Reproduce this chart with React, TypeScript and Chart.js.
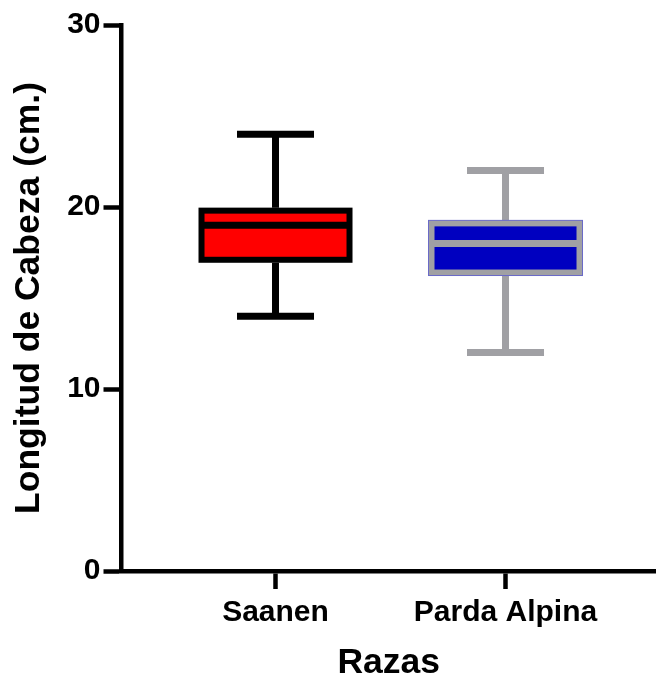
import React, { useEffect, useRef } from "react";
import { Chart, registerables } from "chart.js";

Chart.register(...registerables);

const categories = ["Saanen", "Parda Alpina"];
const minValues = [14, 12];
const q1Values = [17.1, 16.4];
const medianValues = [19, 18];
const q3Values = [19.8, 19.1];
const maxValues = [24, 22];
const fillColors = ["#FF0000", "#0000C0"];
const lineColors = ["#000000", "#A0A0A4"];
const yTicks = [0, 10, 20, 30];

const boxPlugin = {
  id: "boxWhiskers",
  afterDatasetsDraw(chart: any) {
    const { ctx, scales } = chart;
    const xs = scales.x;
    const ys = scales.y;
    const boxW = 148;
    const capW = 77;
    ctx.save();
    ctx.lineCap = "butt";
    categories.forEach((_, i) => {
      const cx = xs.getPixelForValue(i + 1);
      const yQ1 = ys.getPixelForValue(q1Values[i]);
      const yQ3 = ys.getPixelForValue(q3Values[i]);
      const yMed = ys.getPixelForValue(medianValues[i]);
      const yMin = ys.getPixelForValue(minValues[i]);
      const yMax = ys.getPixelForValue(maxValues[i]);
      ctx.strokeStyle = lineColors[i];
      // whiskers
      ctx.lineWidth = 7;
      ctx.beginPath();
      ctx.moveTo(cx, yQ3 - 3);
      ctx.lineTo(cx, yMax);
      ctx.moveTo(cx, yQ1 + 3);
      ctx.lineTo(cx, yMin);
      ctx.stroke();
      ctx.beginPath();
      ctx.moveTo(cx - capW / 2, yMax);
      ctx.lineTo(cx + capW / 2, yMax);
      ctx.moveTo(cx - capW / 2, yMin);
      ctx.lineTo(cx + capW / 2, yMin);
      ctx.stroke();
      // box border
      ctx.lineWidth = 6;
      ctx.strokeRect(cx - boxW / 2, yQ3, boxW, yQ1 - yQ3);
      if (i === 1) {
        ctx.lineWidth = 1;
        ctx.strokeStyle = "#6A6AC8";
        ctx.strokeRect(cx - boxW / 2 - 3, yQ3 - 3, boxW + 6, yQ1 - yQ3 + 6);
        ctx.strokeStyle = lineColors[i];
      }
      // median
      ctx.lineWidth = 7;
      ctx.beginPath();
      ctx.moveTo(cx - boxW / 2, yMed);
      ctx.lineTo(cx + boxW / 2, yMed);
      ctx.stroke();
    });
    ctx.restore();
  },
};

export default function App() {
  const ref = useRef<HTMLCanvasElement>(null);
  useEffect(() => {
    if (!ref.current) return;
    const tickFont = { family: "'Liberation Sans', Arial, sans-serif", size: 30, weight: "bold" as const };
    const titleFont = { family: "'Liberation Sans', Arial, sans-serif", size: 35.5, weight: "bold" as const };
    const chart = new Chart(ref.current, {
      type: "bar",
      data: {
        datasets: [
          {
            data: categories.map((_, i) => ({ x: i + 1, y: [q1Values[i], q3Values[i]] })) as any,
            backgroundColor: fillColors,
            borderWidth: 0,
            barThickness: 148,
          },
        ],
      },
      options: {
        responsive: false,
        animation: false,
        layout: { padding: { top: 25, left: 0, right: 0, bottom: 0 } },
        plugins: { legend: { display: false }, tooltip: { enabled: false } },
        scales: {
          x: {
            type: "linear",
            offset: false,
            min: 0.3304,
            max: 2.6543,
            afterBuildTicks: (s: any) => {
              s.ticks = categories.map((_, i) => ({ value: i + 1 }));
            },
            afterFit: (s: any) => {
              s.height = 106;
            },
            grid: {
              display: true,
              offset: false,
              drawOnChartArea: false,
              drawTicks: true,
              tickLength: 18,
              tickWidth: 4.5,
              tickColor: "#000",
            },
            border: { display: true, width: 4.5, color: "#000" },
            ticks: {
              color: "#000",
              font: tickFont,
              padding: 6,
              maxRotation: 0,
              autoSkip: false,
              callback: (v: any) => categories[Math.round(Number(v)) - 1],
            },
            title: {
              display: true,
              text: "Razas",
              color: "#000",
              font: titleFont,
              padding: { top: 0, bottom: -8 },
            },
          },
          y: {
            type: "linear",
            min: 0,
            max: 30,
            afterBuildTicks: (s: any) => {
              s.ticks = yTicks.map((v) => ({ value: v }));
            },
            afterFit: (s: any) => {
              s.width = 121.5;
            },
            grid: {
              display: true,
              drawOnChartArea: false,
              drawTicks: true,
              tickLength: 18,
              tickWidth: 4.5,
              tickColor: "#000",
            },
            border: { display: true, width: 4.5, color: "#000" },
            ticks: { color: "#000", font: tickFont, padding: 3 },
            title: {
              display: true,
              text: "Longitud de Cabeza (cm.)",
              color: "#000",
              font: titleFont,
              padding: { top: 8, bottom: 0 },
            },
          },
        },
      },
      plugins: [boxPlugin],
    });
    return () => chart.destroy();
  }, []);
  return (
    <div style={{ position: "absolute", left: 0, top: 0, width: 656, height: 677, background: "#fff" }}>
      <canvas ref={ref} width={656} height={677} style={{ display: "block" }} />
    </div>
  );
}
